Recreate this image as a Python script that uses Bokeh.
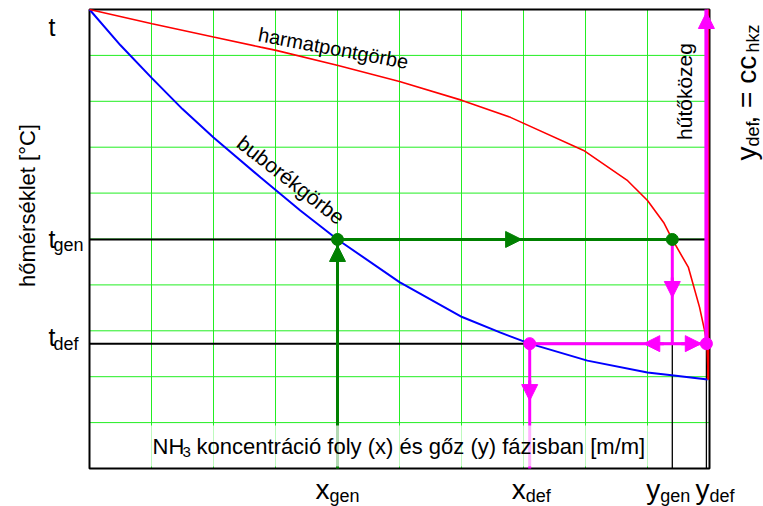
import math
from bokeh.plotting import figure
from bokeh.models import Label, Arrow, NormalHead, BoxAnnotation, Range1d
from bokeh.embed import file_html
from bokeh.resources import INLINE

# ---------------- data (relative units: concentration 0..1, temperature 0..1) -------------
x_bubble = [0.0, 0.05, 0.101, 0.15, 0.2, 0.276, 0.34, 0.4, 0.5, 0.601, 0.663, 0.71, 0.803, 0.9, 0.939, 0.997]
t_bubble = [1.0, 0.922, 0.850, 0.783, 0.721, 0.634, 0.562, 0.499, 0.406, 0.330, 0.296, 0.272, 0.235, 0.209, 0.203, 0.194]

x_dew = [0.0, 0.101, 0.2, 0.276, 0.301, 0.401, 0.5, 0.601, 0.679, 0.797, 0.868, 0.9, 0.926, 0.94, 0.966, 0.984, 0.992, 0.996, 0.998]
t_dew = [1.0, 0.969, 0.940, 0.918, 0.911, 0.878, 0.843, 0.802, 0.765, 0.693, 0.627, 0.584, 0.536, 0.499, 0.438, 0.351, 0.301, 0.272, 0.194]

x_gen, x_def = 0.40, 0.71
y_gen, y_def = 0.94, 0.995
t_gen, t_def, t_top = 0.499, 0.272, 1.0

grid_x = [0.1, 0.2, 0.3, 0.4, 0.5, 0.6, 0.7, 0.8, 0.9]
grid_t = [0.1, 0.2, 0.3, 0.4, 0.5, 0.6, 0.7, 0.8, 0.9]

x_tick_main = ["x", "x", "y", "y"]
x_tick_sub = ["gen", "def", "gen", "def"]
t_tick_sub = ["", "gen", "def"]

FONT = "Liberation Sans"
GREEN = "#008000"
MAGENTA = "#ff00ff"
GRIDC = "#22ee22"

# ---------------- layout: the frame covers the whole canvas, the chart box is data 0..1 ------
W, H = 763, 506
L, R, T, B = 89, 54, 9, 38
FW, FH = W - L - R, H - T - B
KB = 0.27  # baseline correction (fraction of font size)


def sx(px):
    return (px - L) / FW


def sy(py):
    return (H - B - py) / FH


p = figure(width=W, height=H,
           x_range=Range1d(sx(0), sx(W)), y_range=Range1d(sy(H), sy(0)),
           x_axis_type=None, y_axis_type=None, toolbar_location=None,
           output_backend="svg", min_border=0)
p.outline_line_color = None
p.background_fill_color = "white"
p.border_fill_color = "white"

# grid
p.segment(x0=grid_x, y0=[0] * len(grid_x), x1=grid_x, y1=[1] * len(grid_x),
          line_color=GRIDC, line_width=1)
p.segment(x0=[0] * len(grid_t), y0=grid_t, x1=[1] * len(grid_t), y1=grid_t,
          line_color=GRIDC, line_width=1)

# black reference lines
p.segment(x0=[0, 0], y0=[t_gen, t_def], x1=[1, 1], y1=[t_gen, t_def],
          line_color="black", line_width=2)
p.segment(x0=[y_gen, y_def], y0=[0, 0], x1=[y_gen, y_def], y1=[t_def, t_def],
          line_color="black", line_width=1.3)

# chart box
p.quad(left=[0], right=[1], bottom=[0], top=[1], fill_color=None,
       line_color="black", line_width=2)

# curves
p.line(x_bubble, t_bubble, line_color="#0000ff", line_width=2)
p.line(x_dew, t_dew, line_color="#ff0000", line_width=1.6)
p.line([x_dew[-1], x_dew[-1]], [t_dew[-1], t_top], line_color="#ff0000", line_width=2)

# green path
p.line([x_gen, x_gen], [0, t_gen], line_color=GREEN, line_width=3)
p.line([x_gen, y_gen], [t_gen, t_gen], line_color=GREEN, line_width=3)

# magenta path
p.line([y_gen, y_gen], [t_gen, t_def], line_color=MAGENTA, line_width=3)
p.line([x_def, y_def], [t_def, t_def], line_color=MAGENTA, line_width=3)
p.line([x_def, x_def], [t_def, 0], line_color=MAGENTA, line_width=3)
p.line([y_def, y_def], [t_def, t_top], line_color=MAGENTA, line_width=4)


def head(tx, ty, dx, dy, color, size=16):
    p.add_layout(Arrow(end=NormalHead(size=size, fill_color=color, line_color=color),
                       x_start=tx - dx * 20 / FW, y_start=ty - dy * 20 / FH,
                       x_end=tx, y_end=ty, line_color=color, line_width=3))


head(x_gen, t_gen - 6 / FH, 0, 1, GREEN)
head(x_gen + 0.55 * (y_gen - x_gen), t_gen, 1, 0, GREEN)
head(y_gen, t_gen - 0.557 * (t_gen - t_def), 0, -1, MAGENTA)
head(y_gen - 0.2 * (y_gen - x_def), t_def, -1, 0, MAGENTA)
head(y_gen + 0.85 * (y_def - y_gen), t_def, 1, 0, MAGENTA)
head(x_def, t_def * (1 - 0.456), 0, -1, MAGENTA)
head(y_def, t_top - 3 / FH, 0, 1, MAGENTA)

p.scatter([x_gen, y_gen], [t_gen, t_gen], size=12, color=GREEN)
p.scatter([x_def, y_def], [t_def, t_def], size=12, color=MAGENTA)

# white backdrop of the inner axis text
p.add_layout(BoxAnnotation(left=grid_x[0] - 1 / FW, right=grid_x[-1] + 1 / FW,
                           bottom=2 / FH, top=sy(425),
                           fill_color="white", fill_alpha=0.7, line_color=None))


def lab(x, y, text, size, align="left", angle=0.0):
    # x, y: wanted baseline anchor (data units); shift against the renderer's baseline offset
    k = KB * size
    x = x - k * math.sin(angle) / FW
    y = y + k * math.cos(angle) / FH
    p.add_layout(Label(x=x, y=y, text=text, text_font=FONT, text_font_size=f"{size}px",
                       text_align=align, text_baseline="alphabetic", angle=angle,
                       text_color="black"))


# inner x-axis title
lab(sx(152), sy(452), "NH", 22)
lab(sx(182), sy(456), "3", 15)
lab(sx(196), sy(452), "koncentráció foly (x) és gőz (y) fázisban [m/m]", 22)

# bottom tick labels
x_ticks = [x_gen, x_def, y_gen, y_def]
join_off = [-8, -4, -12, 3]
for xv, m, s, o in zip(x_ticks, x_tick_main, x_tick_sub, join_off):
    lab(xv + o / FW, sy(497), m, 28, align="right")
    lab(xv + o / FW, sy(500), s, 18, align="left")

# left tick labels
lab(sx(55), sy(33), "t", 25, align="right")
lab(sx(55), t_gen - 6 / FH, "t", 25, align="right")
lab(sx(53), t_gen - 10 / FH, t_tick_sub[1], 18)
lab(sx(55), t_def, "t", 25, align="right")
lab(sx(53), t_def - 5 / FH, t_tick_sub[2], 18)

# y-axis title
lab(sx(33), sy(205), "hőmérséklet [°C]", 22, align="center", angle=math.pi / 2)

# right title
lab(sx(754), sy(160), "y", 28, angle=math.pi / 2)
lab(sx(757), sy(146), "def", 18, angle=math.pi / 2)
lab(sx(754), sy(123), ", = cc", 28, angle=math.pi / 2)
lab(sx(757), sy(52), "hkz", 18, angle=math.pi / 2)

# curve names
lab(sx(690), sy(91), "hűtőközeg", 21, align="center", angle=math.pi / 2)
lab(sx(257), sy(39), "harmatpontgörbe", 20, angle=-math.atan2(29, 155))
lab(sx(236), sy(144), "buborékgörbe", 21, angle=-math.radians(38))

open("out.html", "w").write(file_html(p, INLINE))
